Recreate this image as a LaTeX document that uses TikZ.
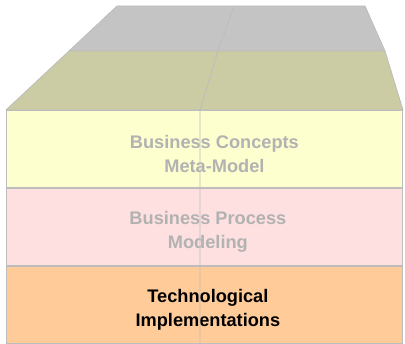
\documentclass[tikz,border=0pt]{standalone}
\usepackage{fontspec}
\setmainfont{Liberation Sans}
\usetikzlibrary{positioning}

\definecolor{topgray}{HTML}{C4C4C4}
\definecolor{olive}{HTML}{CBCCA4}
\definecolor{paleyellow}{HTML}{FEFFCE}
\definecolor{palepink}{HTML}{FFE0E0}
\definecolor{paleorange}{HTML}{FFCC99}
\definecolor{edgegray}{HTML}{BDBDBD}
\definecolor{fadedtext}{HTML}{B2B2B2}

\tikzset{
  layer/.style={draw=edgegray, line width=.8pt, minimum width=396pt, minimum height=77pt,
    inner sep=0pt},
  caption/.style={inner sep=0pt, align=center, font=\bfseries\fontsize{18.2}{24}\selectfont},
  faded/.style={text=fadedtext},
  plane/.style={draw=edgegray, line width=.8pt, line join=round}
}

\begin{document}
\begin{tikzpicture}[x=1pt, y=-1pt]

  \useasboundingbox (0,0) rectangle (405,344);

  % back planes
  \draw[plane, fill=topgray] (117,6) -- (365,6) -- (385,51) -- (69,51) -- cycle;
  \draw[plane, fill=olive] (69,51) -- (385,51) -- (403,110) -- (6,110) -- cycle;

  % stacked layers
  \node[layer, fill=paleyellow, anchor=north west] (concepts) at (6,110) {};
  \node[layer, fill=palepink, below=0pt of concepts] (process) {};
  \node[layer, fill=paleorange, below=0pt of process] (techno) {};

  \node[caption, faded] (conceptstext) at ([xshift=10pt, yshift=-5pt]concepts.center) {Business Concepts\\Meta-Model};
  \node[caption, faded] (processtext) at ([xshift=3.5pt, yshift=-5pt]process.center) {Business Process\\Modeling};
  \node[caption] (technotext) at ([xshift=3.5pt, yshift=-5pt]techno.center) {Technological\\Implementations};

  % divider
  \coordinate (divtop) at (234,6);
  \coordinate (divmid) at (218,51);
  \coordinate (divlow) at (200,110);
  \draw[edgegray, line width=.8pt] (divtop) -- (divmid) -- (divlow) -- (divlow |- techno.south);

\end{tikzpicture}
\end{document}
